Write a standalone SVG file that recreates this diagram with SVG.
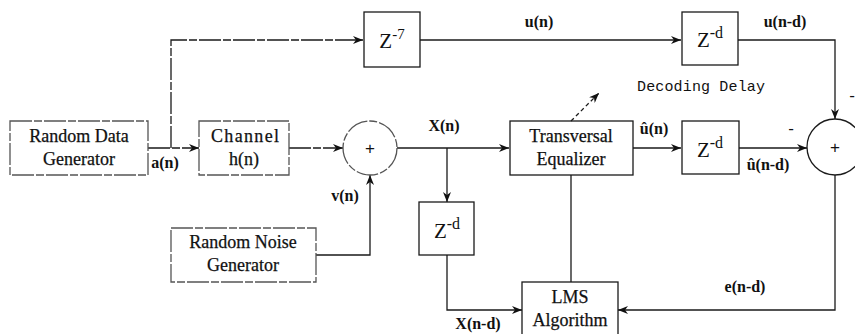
<svg xmlns="http://www.w3.org/2000/svg" width="855" height="334" viewBox="0 0 855 334">
<defs>
<style>
.box{fill:none;stroke:#1a1a1a;stroke-width:1.3}
.faint{stroke:#555;stroke-dasharray:22 2 8 2}
.ln{fill:none;stroke:#1a1a1a;stroke-width:1.3}
.dash{stroke-dasharray:4 3}
.t{font-family:"Liberation Serif","Times New Roman",serif;font-size:18px;fill:#111;stroke:#111;stroke-width:0.25;text-anchor:middle}
.lb{font-family:"Liberation Serif","Times New Roman",serif;font-size:16px;font-weight:bold;fill:#111;text-anchor:middle}
.z{font-family:"Liberation Serif","Times New Roman",serif;font-size:21px;fill:#111;text-anchor:middle}
.mono{font-family:"Liberation Mono","Courier New",monospace;font-size:15px;fill:#111}
.sign{font-family:"Liberation Sans",Arial,sans-serif;font-size:17px;fill:#111;text-anchor:middle}
</style>
<marker id="arr" viewBox="0 0 10 8" refX="10" refY="4" markerWidth="10" markerHeight="8" markerUnits="userSpaceOnUse" orient="auto">
<path d="M0,0 L10,4 L0,8 L3,4 Z" fill="#111"/>
</marker>
</defs>
<rect width="855" height="334" fill="#fff"/>

<g id="connectors">
<path class="ln faint" d="M148,148 H199" marker-end="url(#arr)"/>
<path class="ln faint" d="M171,148 V40 H363" marker-end="url(#arr)"/>
<path class="ln faint" d="M289,148 H343" marker-end="url(#arr)"/>
<path class="ln" d="M316,255 H370 V175" marker-end="url(#arr)"/>
<path class="ln" d="M397,148 H509" marker-end="url(#arr)"/>
<path class="ln" d="M447,148 V202" marker-end="url(#arr)"/>
<path class="ln" d="M420,40 H681" marker-end="url(#arr)"/>
<path class="ln" d="M738,40 H835 V119" marker-end="url(#arr)"/>
<path class="ln" d="M633,148 H681" marker-end="url(#arr)"/>
<path class="ln" d="M739,148 H807" marker-end="url(#arr)"/>
<path class="ln" d="M571,175 V282"/>
<path class="ln dash" d="M571,121 L599,93" marker-end="url(#arr)"/>
<path class="ln" d="M447,255 V310 H522" marker-end="url(#arr)"/>
<path class="ln" d="M835,175 V310 H618" marker-end="url(#arr)"/>
</g>

<g id="random-data-generator">
<rect class="box faint" x="10" y="121" width="138" height="54"/>
<text class="t" x="79" y="142">Random Data</text>
<text class="t" x="79" y="165">Generator</text>
</g>

<g id="channel">
<rect class="box faint" x="199" y="121" width="90" height="54"/>
<text class="t" x="245" y="142" textLength="68" lengthAdjust="spacing">Channel</text>
<text class="t" x="244" y="165">h(n)</text>
</g>

<g id="sum1">
<circle class="box faint" cx="370" cy="148" r="27"/>
<text class="sign" x="370" y="154">+</text>
</g>

<g id="random-noise-generator">
<rect class="box faint" x="171" y="228" width="145" height="54"/>
<text class="t" x="243" y="248">Random Noise</text>
<text class="t" x="243" y="271">Generator</text>
</g>

<g id="delay-z7">
<rect class="box" x="364" y="12" width="56" height="55"/>
<text class="z" x="392" y="48">Z<tspan font-size="15" dy="-9">-7</tspan></text>
</g>

<g id="delay-zd-top">
<rect class="box" x="682" y="12" width="56" height="53"/>
<text class="z" x="710" y="47">Z<tspan font-size="16" dy="-9">-d</tspan></text>
</g>

<g id="transversal-equalizer">
<rect class="box" x="510" y="121" width="123" height="54"/>
<text class="t" x="571" y="142">Transversal</text>
<text class="t" x="571" y="165">Equalizer</text>
</g>

<g id="delay-zd-mid">
<rect class="box" x="682" y="121" width="57" height="53"/>
<text class="z" x="710" y="157">Z<tspan font-size="16" dy="-9">-d</tspan></text>
</g>

<g id="sum2">
<circle class="box" cx="835" cy="147" r="28"/>
<text class="sign" x="835" y="153">+</text>
</g>

<g id="delay-zd-low">
<rect class="box" x="419" y="202" width="55" height="53"/>
<text class="z" x="447" y="238">Z<tspan font-size="16" dy="-9">-d</tspan></text>
</g>

<g id="lms-algorithm">
<rect class="box" x="522" y="282" width="96" height="70"/>
<text class="t" x="570" y="303">LMS</text>
<text class="t" x="570" y="326">Algorithm</text>
</g>

<g id="labels">
<text class="lb" x="165" y="168">a(n)</text>
<text class="lb" x="345" y="201">v(n)</text>
<text class="lb" x="444" y="131">X(n)</text>
<text class="lb" x="539" y="27">u(n)</text>
<text class="lb" x="785" y="27">u(n-d)</text>
<text class="mono" x="637" y="91" textLength="128" lengthAdjust="spacing">Decoding Delay</text>
<text class="lb" x="654" y="134">û(n)</text>
<text class="lb" x="768" y="170">û(n-d)</text>
<text class="sign" x="791" y="134">-</text>
<text class="sign" x="852" y="101">-</text>
<text class="lb" x="745" y="292">e(n-d)</text>
<text class="lb" x="478" y="329">X(n-d)</text>
</g>
</svg>
